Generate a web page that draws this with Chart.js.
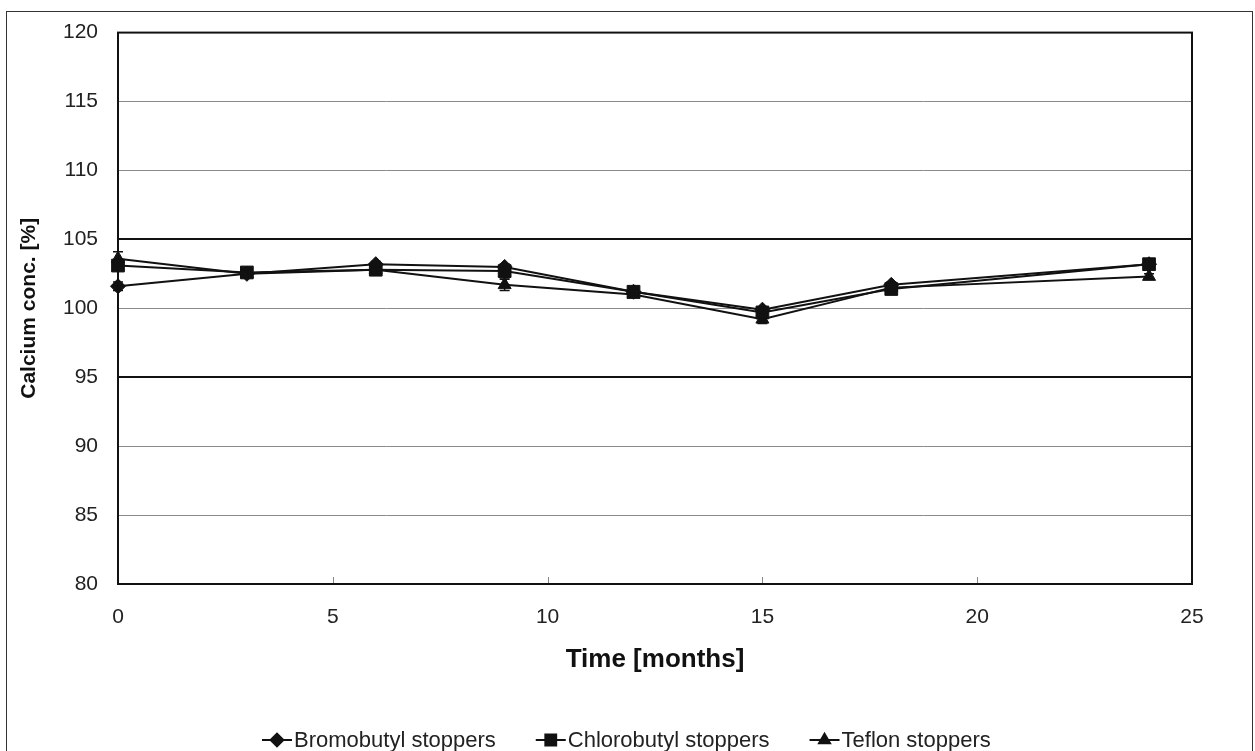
<!DOCTYPE html>
<html>
<head>
<meta charset="utf-8">
<script src="https://cdn.jsdelivr.net/npm/chart.js@4.4.1/dist/chart.umd.min.js"></script>
<style>
  html, body { margin: 0; padding: 0; background: #fff; }
  #wrap { width: 1255px; height: 751px; }
</style>
</head>
<body>
<div id="wrap"><canvas id="c" width="1255" height="751"></canvas></div>
<script>
// Sampling times (months)
const months = [0, 3, 6, 9, 12, 15, 18, 24];

// Calcium concentration, % of nominal
const bromobutyl  = [101.6, 102.5, 103.2, 103.0, 101.2, 99.9, 101.7, 103.2];
const chlorobutyl = [103.1, 102.6, 102.8, 102.7, 101.2, 99.7, 101.4, 103.2];
const teflon      = [103.6, 102.5, 102.8, 101.7, 101.0, 99.2, 101.5, 102.3];

// Standard deviations (error bars)
const bromobutylSd  = [0.3, 0.2, 0.2, 0.2, 0.2, 0.2, 0.2, 0.2];
const chlorobutylSd = [0.3, 0.2, 0.2, 0.5, 0.2, 0.3, 0.2, 0.2];
const teflonSd      = [0.5, 0.2, 0.2, 0.4, 0.2, 0.3, 0.2, 0.2];

const seriesNames = ['Bromobutyl stoppers', 'Chlorobutyl stoppers', 'Teflon stoppers'];

// Axis ticks
const xTicks = [0, 5, 10, 15, 20, 25];
const yTicks = [80, 85, 90, 95, 100, 105, 110, 115, 120];
const limitLines = [95, 105];

const FONT = '"Liberation Sans", Arial, sans-serif';
const INK = '#111';

function pts(values) {
  return months.map((m, i) => ({ x: m, y: values[i] }));
}

const styles = [
  { pointStyle: 'rectRot', radius: 7.5 },
  { pointStyle: 'rect', radius: 9 },
  { pointStyle: 'triangle', radius: 7.5 }
];

const datasets = [bromobutyl, chlorobutyl, teflon].map((vals, k) => ({
  label: seriesNames[k],
  data: pts(vals),
  sd: [bromobutylSd, chlorobutylSd, teflonSd][k],
  borderColor: INK,
  backgroundColor: INK,
  borderWidth: 2,
  pointStyle: styles[k].pointStyle,
  pointRadius: styles[k].radius,
  pointBorderWidth: 1,
  pointBorderColor: INK,
  pointBackgroundColor: INK,
  clip: false,
  tension: 0
}));

// Outer frame, plot frame, inward x ticks
const framePlugin = {
  id: 'frames',
  beforeDraw(chart) {
    const { ctx } = chart;
    ctx.save();
    ctx.fillStyle = '#fff';
    ctx.fillRect(0, 0, chart.width, chart.height);
    ctx.strokeStyle = '#333';
    ctx.lineWidth = 1;
    ctx.strokeRect(6.5, 11.5, 1246, 745);
    ctx.restore();
  },
  beforeDatasetsDraw(chart) {
    const { ctx, chartArea: a, scales: { x } } = chart;
    ctx.save();
    ctx.strokeStyle = '#888';
    ctx.lineWidth = 1;
    xTicks.forEach(v => {
      const px = Math.round(x.getPixelForValue(v)) + 0.5;
      ctx.beginPath();
      ctx.moveTo(px, a.bottom);
      ctx.lineTo(px, a.bottom - 7);
      ctx.stroke();
    });
    ctx.strokeStyle = '#111';
    ctx.lineWidth = 2;
    ctx.strokeRect(a.left, a.top, a.right - a.left, a.bottom - a.top);
    ctx.restore();
  }
};

// Vertical error bars with caps
const errorBarPlugin = {
  id: 'errorBars',
  afterDatasetsDraw(chart) {
    const { ctx, scales: { x, y } } = chart;
    ctx.save();
    ctx.strokeStyle = INK;
    ctx.lineWidth = 1.5;
    chart.data.datasets.forEach(ds => {
      ds.data.forEach((p, i) => {
        const e = ds.sd[i];
        const px = x.getPixelForValue(p.x);
        const top = y.getPixelForValue(p.y + e);
        const bot = y.getPixelForValue(p.y - e);
        ctx.beginPath();
        ctx.moveTo(px, top); ctx.lineTo(px, bot);
        ctx.moveTo(px - 5, top); ctx.lineTo(px + 5, top);
        ctx.moveTo(px - 5, bot); ctx.lineTo(px + 5, bot);
        ctx.stroke();
      });
    });
    ctx.restore();
  }
};

// Legend: line segment with marker, then series name, evenly spaced
const legendPlugin = {
  id: 'lineLegend',
  afterDraw(chart) {
    const { ctx } = chart;
    const cy = 740;
    const seg = 30, gap = 2, spacing = 40;
    ctx.save();
    ctx.font = '22px ' + FONT;
    let cx = 262;
    chart.data.datasets.forEach(ds => {
      ctx.strokeStyle = INK;
      ctx.lineWidth = 2;
      ctx.beginPath();
      ctx.moveTo(cx, cy); ctx.lineTo(cx + seg, cy);
      ctx.stroke();
      ctx.fillStyle = INK;
      Chart.helpers.drawPoint(ctx, {
        pointStyle: ds.pointStyle, radius: ds.pointRadius * 0.85, borderWidth: 1, rotation: 0
      }, cx + seg / 2, cy);
      ctx.fillStyle = '#222';
      ctx.textBaseline = 'middle';
      ctx.textAlign = 'left';
      ctx.fillText(ds.label, cx + seg + gap, cy + 1);
      cx += seg + gap + ctx.measureText(ds.label).width + spacing;
    });
    ctx.restore();
  }
};

new Chart(document.getElementById('c'), {
  type: 'line',
  data: { datasets },
  plugins: [framePlugin, errorBarPlugin, legendPlugin],
  options: {
    responsive: false,
    animation: false,
    layout: { padding: { top: 29, right: 63, bottom: 0, left: 0 } },
    plugins: { legend: { display: false }, tooltip: { enabled: false } },
    scales: {
      x: {
        type: 'linear',
        min: 0, max: 25,
        afterFit(s) { s.height = 167; },
        afterBuildTicks(s) { s.ticks = xTicks.map(v => ({ value: v })); },
        grid: { display: false, drawTicks: false },
        border: { display: false },
        ticks: { padding: 21, color: '#222', font: { family: FONT, size: 21 } },
        title: {
          display: true, text: 'Time [months]', color: '#111',
          font: { family: FONT, size: 26, weight: 'bold' },
          padding: { top: 0, bottom: 76 }
        }
      },
      y: {
        type: 'linear',
        min: 80, max: 120,
        afterFit(s) { s.width = 118; },
        afterBuildTicks(s) { s.ticks = yTicks.map(v => ({ value: v })); },
        grid: {
          drawTicks: false,
          color: c => limitLines.includes(c.tick.value) ? '#111' : '#8a8a8a',
          lineWidth: c => limitLines.includes(c.tick.value) ? 2 : 1
        },
        border: { display: false },
        ticks: { padding: 20, color: '#222', font: { family: FONT, size: 21 } },
        title: {
          display: true, text: 'Calcium conc. [%]', color: '#111',
          font: { family: FONT, size: 21, weight: 'bold' },
          padding: { top: 17, bottom: 0 }
        }
      }
    }
  }
});
</script>
</body>
</html>
